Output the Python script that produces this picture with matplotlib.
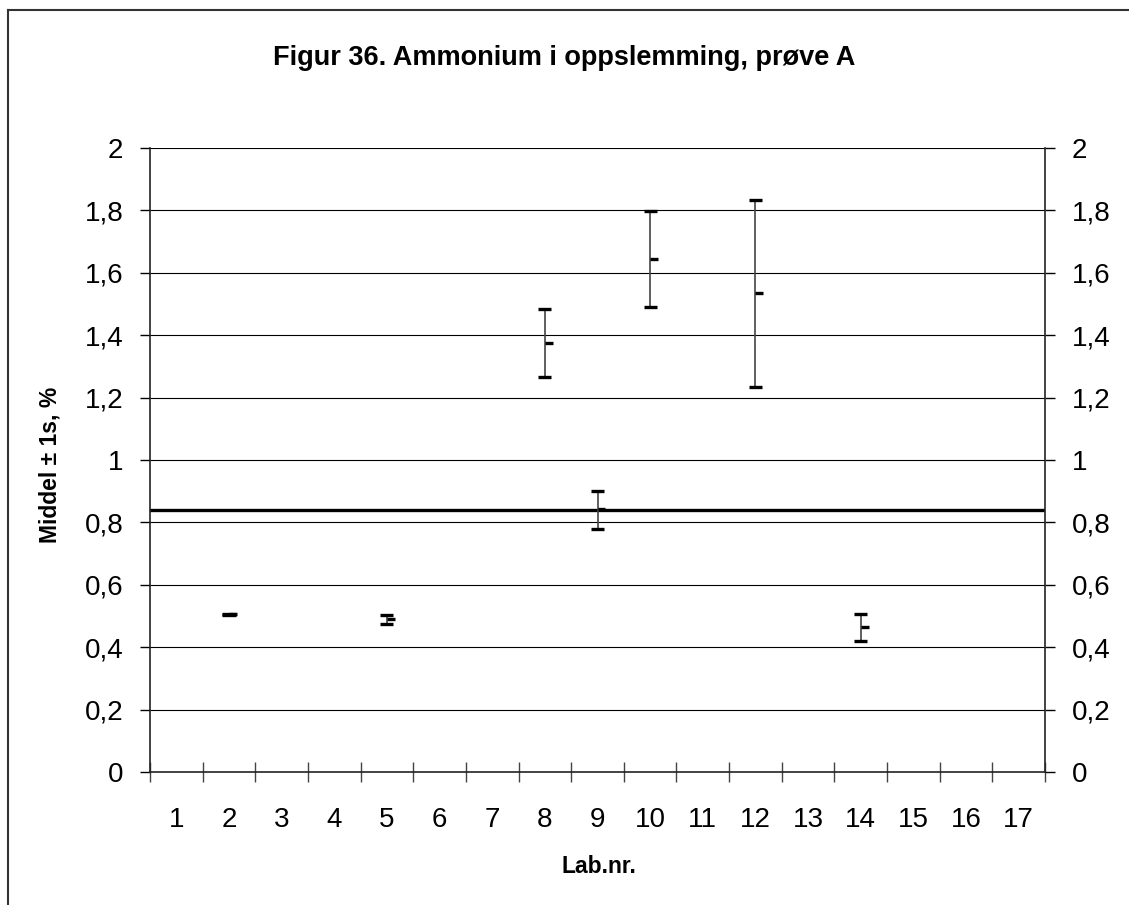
import matplotlib
matplotlib.use("Agg")
import matplotlib.pyplot as plt
from matplotlib.lines import Line2D
from matplotlib.ticker import FixedLocator, FuncFormatter

plt.rcParams["font.family"] = ["Liberation Sans", "DejaVu Sans"]

# Lab-nummer langs x-aksen
lab_labels = [str(i) for i in range(1, 18)]

# Resultater per lab: middel, middel - 1s, middel + 1s
labs = [2, 5, 8, 9, 10, 12, 14]
middel = [0.505, 0.489, 1.374, 0.844, 1.643, 1.534, 0.464]
lav = [0.503, 0.474, 1.265, 0.778, 1.489, 1.233, 0.419]
hoy = [0.508, 0.503, 1.483, 0.900, 1.798, 1.833, 0.508]

# Samlet middelverdi
total_middel = 0.84

W, H = 1129, 905
fig = plt.figure(figsize=(W / 100, H / 100), dpi=100)
ax = fig.add_axes([150 / W, 1 - 772 / H, (1045 - 150) / W, (772 - 148) / H])

# ramme rundt figuren
fig.add_artist(Line2D([8 / W, 8 / W], [0, 1 - 10 / H], color="#333333", lw=1.5,
                      transform=fig.transFigure))
fig.add_artist(Line2D([8 / W, 1], [1 - 10 / H, 1 - 10 / H], color="#333333", lw=1.5,
                      transform=fig.transFigure))

ax.set_xlim(-0.5, 16.5)
ax.set_ylim(0, 2)

# rutenett
for y in [0.2 * i for i in range(1, 11)]:
    ax.axhline(y, color="black", lw=0.8, zorder=1)

ax.axhline(total_middel, color="black", lw=2.4, zorder=2)

cap = 0.125
for lab, m, lo, hi in zip(labs, middel, lav, hoy):
    x = lab - 1
    ax.plot([x, x], [lo, hi], color="#444444", lw=1.2, zorder=3)
    ax.plot([x - cap, x + cap], [lo, lo], color="black", lw=2.4, zorder=4,
            solid_capstyle="butt")
    ax.plot([x - cap, x + cap], [hi, hi], color="black", lw=2.4, zorder=4,
            solid_capstyle="butt")
    ax.plot([x, x + 0.15], [m, m], color="black", lw=2.4, zorder=4,
            solid_capstyle="butt")

# x-akse: streker mellom kategoriene, tekst midt i
ax.xaxis.set_major_locator(FixedLocator([i - 0.5 for i in range(18)]))
ax.xaxis.set_minor_locator(FixedLocator(list(range(17))))
ax.set_xticklabels([], minor=False)
ax.set_xticklabels(lab_labels, minor=True)
ax.tick_params(axis="x", which="major", direction="inout", length=14.5, width=1,
               color="#444444")
ax.tick_params(axis="x", which="minor", length=0, pad=25, labelsize=20)

ax.set_yticks([0.2 * i for i in range(11)])
fmt = FuncFormatter(lambda v, p: f"{v:.1f}".replace(".", ",").replace(",0", ""))
ax.yaxis.set_major_formatter(fmt)
ax.tick_params(axis="y", which="major", direction="out", length=7.2, width=1,
               pad=12, labelsize=20, left=True, right=True,
               labelleft=True, labelright=True)

for side in ["left", "right", "bottom"]:
    ax.spines[side].set_linewidth(1.2)
    ax.spines[side].set_color("#222222")
ax.spines["top"].set_visible(False)

fig.text(0.5, 1 - 58 / H, "Figur 36. Ammonium i oppslemming, prøve A",
         ha="center", va="center", fontsize=19.5, fontweight="bold")
fig.text(50 / W, 1 - 465 / H, "Middel ± 1s, %", rotation=90, ha="center",
         va="center", fontsize=16.5, fontweight="bold")
fig.text(599 / W, 1 - 866 / H, "Lab.nr.", ha="center", va="center",
         fontsize=16.5, fontweight="bold")

fig.savefig("out.png", dpi=100)
